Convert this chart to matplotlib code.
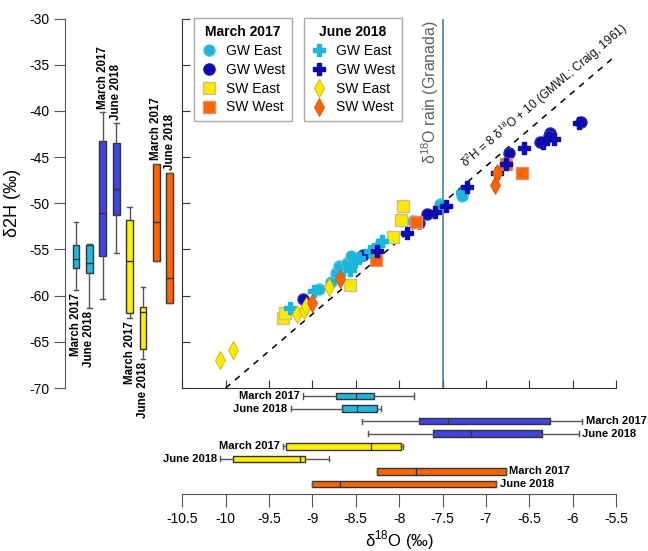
import numpy as np
import matplotlib
matplotlib.use("Agg")
import matplotlib.pyplot as plt
from matplotlib.lines import Line2D

plt.rcParams['font.family'] = ['Liberation Sans', 'DejaVu Sans']
plt.rcParams['axes.unicode_minus'] = False
plt.rcParams['mathtext.fontset'] = 'custom'
plt.rcParams['mathtext.rm'] = 'Liberation Sans'

# ---------------- data ----------------
# scatter: March 2017
gw_east_mar_x = [-8.92, -8.78, -8.73, -8.69, -8.60, -8.55, -7.84, -7.53, -7.27]
gw_east_mar_y = [-59.30, -58.56, -57.51, -56.83, -56.47, -55.75, -51.97, -50.05, -49.24]
gw_west_mar_x = [-9.11, -8.42, -7.77, -7.68, -6.73, -6.38, -6.26, -6.27, -5.90]
gw_west_mar_y = [-60.38, -55.62, -52.16, -51.14, -44.51, -43.32, -42.35, -42.76, -41.16]
sw_east_mar_x = [-9.34, -9.32, -8.57, -8.07, -7.98, -7.95]
sw_east_mar_y = [-62.41, -61.87, -58.86, -53.65, -51.78, -50.35]
sw_west_mar_x = [-8.27, -7.81, -6.77, -6.58]
sw_west_mar_y = [-56.18, -52.00, -45.73, -46.70]
# scatter: June 2018
gw_east_jun_x = [-9.26, -8.98, -8.69, -8.57, -8.51, -8.46, -8.34, -8.24, -8.20, -7.27]
gw_east_jun_y = [-61.30, -59.46, -57.62, -57.24, -56.29, -55.92, -55.21, -54.49, -54.13, -48.76]
gw_west_jun_x = [-8.26, -7.91, -7.59, -7.46, -7.22, -6.87, -6.77, -6.56, -6.34, -6.22, -5.93]
gw_west_jun_y = [-55.21, -53.19, -50.90, -50.35, -48.25, -46.74, -45.73, -44.03, -43.43, -43.06, -41.26]
sw_east_jun_x = [-10.06, -9.91, -9.18, -9.10, -9.07, -8.81]
sw_east_jun_y = [-66.92, -65.84, -61.95, -61.59, -61.11, -59.10]
sw_west_jun_x = [-9.01, -8.68, -6.89, -6.87]
sw_west_jun_y = [-60.76, -58.16, -48.00, -46.73]

# box plots (order: GW East Mar, GW East Jun, GW West Mar, GW West Jun,
#                    SW East Mar, SW East Jun, SW West Mar, SW West Jun)
box_labels = ["March 2017", "June 2018"] * 4
h2_whislo = [-59.35, -61.3, -60.4, -55.4, -62.4, -66.85, -56.2, -60.8]
h2_q1 = [-57.0, -57.5, -55.7, -51.25, -61.9, -65.8, -56.2, -60.8]
h2_med = [-56.0, -56.5, -51.1, -48.5, -56.3, -61.8, -52.0, -58.1]
h2_q3 = [-54.5, -54.55, -43.3, -43.5, -51.85, -61.2, -45.7, -46.7]
h2_whishi = [-52.0, -54.4, -40.15, -41.3, -50.4, -59.06, -45.7, -46.7]

o18_whislo = [-9.11, -9.25, -8.43, -8.36, -9.34, -10.06, -8.26, -9.01]
o18_q1 = [-8.73, -8.66, -7.77, -7.61, -9.31, -9.91, -8.26, -9.01]
o18_med = [-8.50, -8.49, -7.44, -7.17, -8.32, -9.14, -7.80, -8.68]
o18_q3 = [-8.29, -8.26, -6.26, -6.35, -7.98, -9.08, -6.77, -6.88]
o18_whishi = [-7.83, -8.21, -5.89, -5.93, -7.95, -8.81, -6.77, -6.88]

rain_o18 = -7.5
gmwl_x = [-10.0, -5.5]

# ---------------- style ----------------
c_cyan = '#1cb6da'
c_dblue = '#0b0bb0'
c_yellow = '#ffe800'
c_orange = '#ff6400'
box_colors = ['#1fb9dc', '#1fb9dc', '#4343e0', '#4343e0',
              '#ffee00', '#ffee00', '#ff6600', '#ff6600']
label_below = [True, True, False, False, True, True, False, False]

W, H = 648, 551
fig = plt.figure(figsize=(W / 100, H / 100), dpi=100)

def fr(x0, y0, x1, y1):
    return [x0 / W, 1 - y1 / H, (x1 - x0) / W, (y1 - y0) / H]

ax = fig.add_axes(fr(182.3, 18.5, 616, 388))
axl = fig.add_axes(fr(65, 18.5, 180, 388))
axb = fig.add_axes(fr(182.3, 388, 616, 493.5))

# ---------------- main scatter ----------------
ax.set_xlim(-10.5, -5.5)
ax.set_ylim(-70, -30)
for s in ['top', 'right']:
    ax.spines[s].set_visible(False)
for s in ['left', 'bottom']:
    ax.spines[s].set_color('#333333')
ax.set_xticks(np.arange(-10.5, -5.49, 0.5))
ax.set_yticks(np.arange(-70, -29.9, 5))
ax.tick_params(direction='in', length=6, labelleft=False, labelbottom=False, color='#333333')
ax.patch.set_alpha(0)

gx = np.array(gmwl_x)
ax.plot(gx, 8 * gx + 10, ls=(0, (4, 4)), color='black', lw=1.1, zorder=2)
ax.axvline(rain_o18, color='#3f6fa8', lw=1.1, zorder=2)

ms = 8
ax.plot(gw_east_mar_x, gw_east_mar_y, 'o', ms=ms, color=c_cyan, mec='#4fc0dd', zorder=3)
ax.plot(gw_west_mar_x, gw_west_mar_y, 'o', ms=ms, color=c_dblue, mec='#3030b8', zorder=3)
ax.plot(sw_east_mar_x, sw_east_mar_y, 's', ms=ms, color=c_yellow, mec='#c8c090', zorder=3)
ax.plot(sw_west_mar_x, sw_west_mar_y, 's', ms=ms, color=c_orange, mec='#e09070', zorder=3)
ax.plot(gw_east_jun_x, gw_east_jun_y, 'P', ms=ms + 1, color=c_cyan, mec=c_cyan, zorder=4)
ax.plot(gw_west_jun_x, gw_west_jun_y, 'P', ms=ms + 1, color=c_dblue, mec=c_dblue, zorder=4)
ax.plot(sw_east_jun_x, sw_east_jun_y, 'd', ms=ms + 1, color=c_yellow, mec='#c8b400', mew=0.6, zorder=4)
ax.plot(sw_west_jun_x, sw_west_jun_y, 'd', ms=ms + 1, color=c_orange, mec='#d85000', mew=0.6, zorder=4)

ax.text(rain_o18 - 0.015, -30.2, r'δ$^{18}$O rain (Granada)', rotation=90,
        ha='right', va='top', color='#606060', fontsize=11.5)

p1 = ax.transData.transform((-10, -70))
p2 = ax.transData.transform((-6, -38))
ang = np.degrees(np.arctan2(p2[1] - p1[1], p2[0] - p1[0]))
ax.text(-7.19, -8 * 7.19 + 10 + 0.9, r'δ$^{2}$H = 8 δ$^{18}$O + 10 (GMWL; Craig, 1961)',
        rotation=ang, rotation_mode='anchor', ha='left', va='bottom', fontsize=8.6,
        color='#111111', clip_on=False)

# legends
h_mar = [Line2D([], [], ls='', marker='o', ms=ms, color=c_cyan, mec='#4fc0dd'),
         Line2D([], [], ls='', marker='o', ms=ms, color=c_dblue),
         Line2D([], [], ls='', marker='s', ms=ms, color=c_yellow, mec='#c8c090'),
         Line2D([], [], ls='', marker='s', ms=ms, color=c_orange, mec='#e09070')]
h_jun = [Line2D([], [], ls='', marker='P', ms=ms + 1, color=c_cyan),
         Line2D([], [], ls='', marker='P', ms=ms + 1, color=c_dblue),
         Line2D([], [], ls='', marker='d', ms=ms + 1, color=c_yellow, mec='#c8b400', mew=0.6),
         Line2D([], [], ls='', marker='d', ms=ms + 1, color=c_orange, mec='#d85000', mew=0.6)]
names = ['GW East', 'GW West', 'SW East', 'SW West']
legkw = dict(loc='upper left', fontsize=10, frameon=True, fancybox=False,
             edgecolor='#aaaaaa', framealpha=1, handletextpad=0.6, labelspacing=0.35,
             borderpad=0.5, handlelength=1.2, borderaxespad=0,
             bbox_transform=fig.transFigure)
leg1 = fig.legend(h_mar, names, title='March 2017', bbox_to_anchor=(194 / W, 1 - 18 / H), **legkw)
leg2 = fig.legend(h_jun, names, title='June 2018', bbox_to_anchor=(304 / W, 1 - 18 / H), **legkw)
for lg in (leg1, leg2):
    lg.get_title().set_fontweight('bold')
    lg.get_title().set_fontsize(10)
    lg.get_frame().set_linewidth(1.0)

# ---------------- box plot helpers ----------------
def stats(lo, q1, med, q3, hi):
    return [dict(whislo=a, q1=b, med=c, q3=d, whishi=e, fliers=[])
            for a, b, c, d, e in zip(lo, q1, med, q3, hi)]

pos = np.arange(1, 9)

# left δ2H boxes
st = stats(h2_whislo, h2_q1, h2_med, h2_q3, h2_whishi)
bp = axl.bxp(st, positions=pos, widths=0.52, patch_artist=True, vert=True,
             capwidths=0.35, showfliers=False,
             boxprops=dict(edgecolor='#333333', lw=1.0),
             medianprops=dict(color='#333333', lw=1.0),
             whiskerprops=dict(color='#555555', lw=1.0),
             capprops=dict(color='#555555', lw=1.0))
for p, c in zip(bp['boxes'], box_colors):
    p.set_facecolor(c)
axl.set_xlim(1 - 11 / 13.4, 8 + 10.2 / 13.4)
axl.set_ylim(-70, -30)
axl.set_yticks(np.arange(-70, -29.9, 5))
axl.set_yticklabels([f'{v:d}' for v in range(-70, -29, 5)])
axl.set_xticks([])
for s in ['top', 'right', 'bottom']:
    axl.spines[s].set_visible(False)
axl.spines['left'].set_color('#555555')
axl.tick_params(axis='y', direction='out', length=8, labelsize=10, color='#555555', pad=3)
axl.patch.set_alpha(0)
axl.set_ylabel('δ2H (‰)', fontsize=13, labelpad=6)
for i in range(8):
    if label_below[i]:
        axl.text(pos[i], h2_whislo[i] - 0.35, box_labels[i], rotation=90, ha='center',
                 va='top', fontsize=8.3, fontweight='bold', clip_on=False)
    else:
        axl.text(pos[i], h2_whishi[i] + 0.35, box_labels[i], rotation=90, ha='center',
                 va='bottom', fontsize=8.3, fontweight='bold', clip_on=False)

# lower δ18O boxes
st2 = stats(o18_whislo, o18_q1, o18_med, o18_q3, o18_whishi)
bp2 = axb.bxp(st2, positions=pos, widths=0.52, patch_artist=True, vert=False,
              capwidths=0.4, showfliers=False,
              boxprops=dict(edgecolor='#333333', lw=1.0),
              medianprops=dict(color='#333333', lw=1.0),
              whiskerprops=dict(color='#555555', lw=1.0),
              capprops=dict(color='#555555', lw=1.0))
for p, c in zip(bp2['boxes'], box_colors):
    p.set_facecolor(c)
axb.set_xlim(-10.5, -5.5)
axb.set_ylim(8 + 9.5 / 12.57, 1 - 8 / 12.57)
axb.set_yticks([])
axb.set_xticks(np.arange(-10.5, -5.49, 0.5))
axb.set_xticklabels([f'{v:g}' for v in np.arange(-10.5, -5.49, 0.5)])
for s in ['top', 'right', 'left']:
    axb.spines[s].set_visible(False)
axb.spines['bottom'].set_color('#555555')
axb.tick_params(axis='x', direction='out', length=9, labelsize=10, color='#555555', pad=4)
axb.patch.set_alpha(0)
axb.set_xlabel(r'δ$^{18}$O (‰)', fontsize=12, labelpad=2)
for i in range(8):
    if label_below[i]:
        axb.text(o18_whislo[i] - 0.04, pos[i], box_labels[i], ha='right', va='center',
                 fontsize=8, fontweight='bold', clip_on=False)
    else:
        axb.text(o18_whishi[i] + 0.04, pos[i], box_labels[i], ha='left', va='center',
                 fontsize=8, fontweight='bold', clip_on=False)

fig.savefig('out.png', dpi=100)
